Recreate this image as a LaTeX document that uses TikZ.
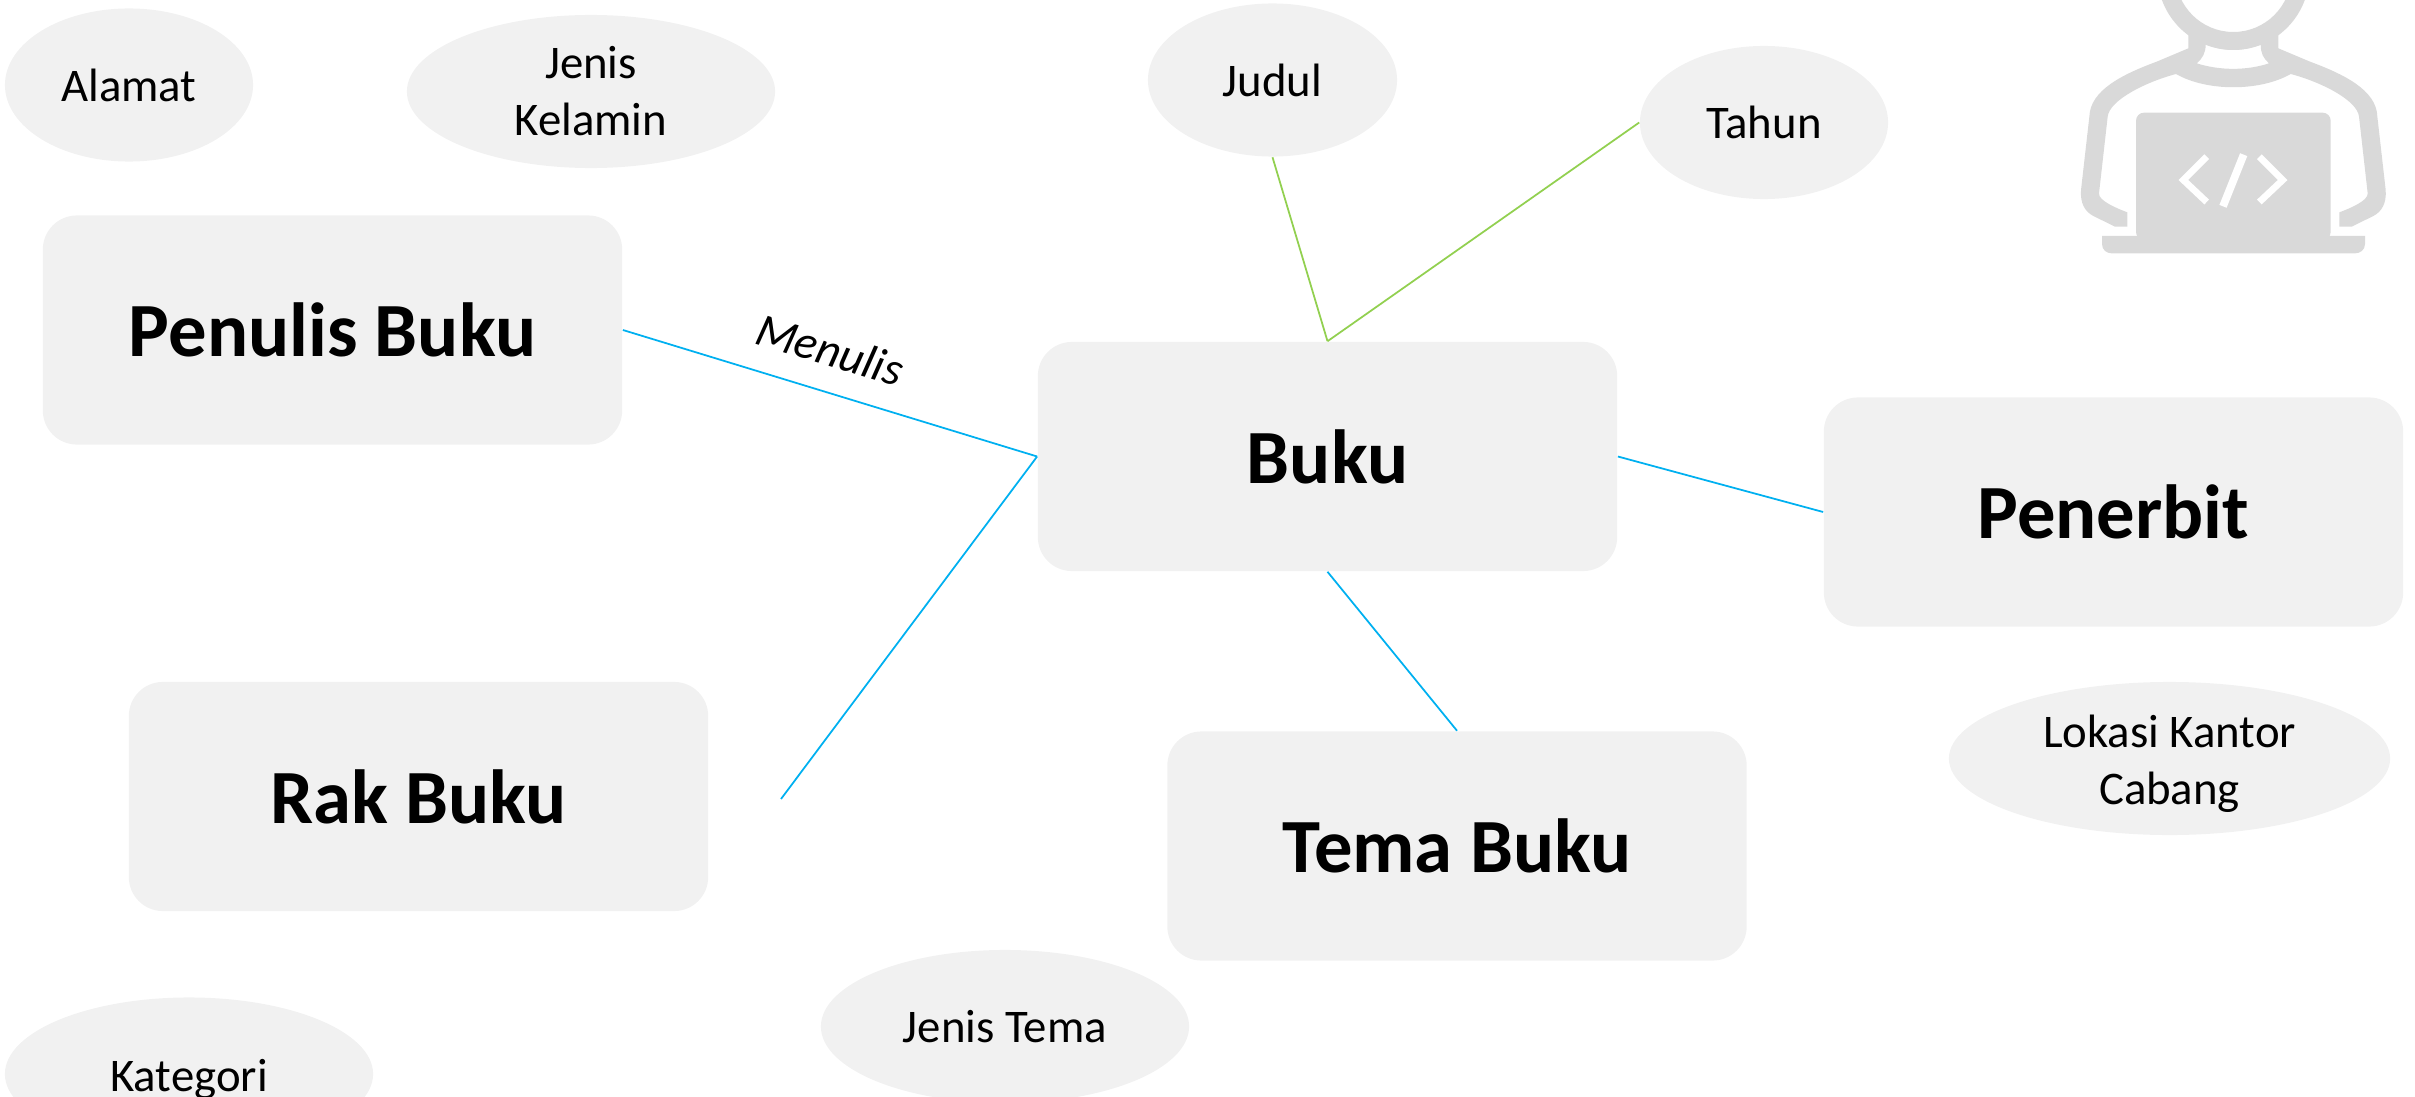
\documentclass[tikz,border=0pt]{standalone}
\usepackage{fontspec}
\setmainfont{Carlito}
\usetikzlibrary{shapes.geometric}
\definecolor{boxgray}{HTML}{F1F1F1}
\definecolor{icongray}{HTML}{D9D9D9}
\definecolor{linkblue}{HTML}{00B0F0}
\definecolor{linkgreen}{HTML}{92D050}
\newcommand{\lowtext}[1]{\raisebox{-1.5pt}[\height][\depth]{#1}}
\begin{document}
\begin{tikzpicture}[x=0.01cm, y=-0.01cm,
    box node/.style={rectangle, fill=boxgray, rounded corners=0.34cm, inner sep=0pt,
                        minimum width=5.79cm, minimum height=2.29cm,
                        font=\fontsize{21.8}{26}\selectfont\bfseries},
    attr node/.style={ellipse, fill=boxgray, inner sep=0pt, align=center,
                        minimum height=1.53cm,
                        font=\fontsize{13.3}{16.2}\selectfont},
    blue link/.style={linkblue, line width=0.5pt},
    green link/.style={linkgreen, line width=0.5pt}]
\useasboundingbox (0,0) rectangle (2415,1097);
\clip (0,0) rectangle (2415,1097);

\node[box node](penulis) at (332.5,330) {Penulis Buku};
\node[box node](buku) at (1327.5,456.5) {Buku};
\node[box node](penerbit) at (2113.5,512) {Penerbit};
\node[box node](rak) at (418.5,796.5) {Rak Buku};
\node[box node](tema) at (1457,846) {Tema Buku};

\node[attr node, minimum width=2.48cm](alamat) at (129,85) {Alamat};
\node[attr node, minimum width=3.68cm](kelamin) at (591,91.5) {Jenis\\Kelamin};
\node[attr node, minimum width=2.49cm](judul) at (1272.5,80) {Judul};
\node[attr node, minimum width=2.48cm](tahun) at (1764,122.5) {Tahun};
\node[attr node, minimum width=4.41cm](lokasi) at (2169.5,758.5) {\lowtext{Lokasi Kantor}\\\lowtext{Cabang}};
\node[attr node, minimum width=3.68cm](jenistema) at (1005,1026.5) {Jenis Tema};
\node[attr node, minimum width=3.68cm](kategori) at (189,1074) {\lowtext{Kategori}};

\coordinate (rakend) at (781,799);

\draw[blue link] (penulis.east) -- (buku.west)
    node[pos=0.471, sloped, above=3.6pt, black, font=\fontsize{13.4}{16}\selectfont\itshape] (menulis) {Menulis};
\draw[blue link] (rakend) -- (buku.west);
\draw[blue link] (buku.east) -- (penerbit.west);
\draw[blue link] (buku.south) -- (tema.north);
\draw[green link] (judul.south) -- (buku.north);
\draw[green link] (tahun.west) -- (buku.north);

\begin{scope}[shift={(2040,0)}, x=0.01cm/3, y=-0.01cm/3]
\fill[icongray, even odd rule] (580,-78) circle[radius=228] (580,-78) circle[radius=174];
\fill[icongray, even odd rule] (445,100) -- (445,145) -- (350,185)
    .. controls (250,222) and (150,270) .. (148,350)
    -- (123,570) .. controls (120,610) and (135,635) .. (160,648)
    -- (225,680) -- (262,680) -- (262,637)
    .. controls (230,625) and (175,602) .. (177,580)
    -- (203,350) .. controls (208,300) and (320,245) .. (408,222)
    .. controls (500,275) and (660,275) .. (752,222)
    .. controls (840,245) and (952,300) .. (957,350)
    -- (983,580) .. controls (985,602) and (930,625) .. (898,637)
    -- (898,680) -- (935,680) -- (1000,648)
    .. controls (1025,635) and (1040,610) .. (1037,570)
    -- (1012,350) .. controls (1010,270) and (910,222) .. (810,185)
    -- (715,145) -- (715,100) -- (580,125) -- cycle
    (497,133) .. controls (550,155) and (610,155) .. (662,133)
    .. controls (662,160) and (670,175) .. (687,190)
    .. controls (620,212) and (540,212) .. (470,190)
    .. controls (487,175) and (497,160) .. (497,133) -- cycle;
\fill[icongray, rounded corners=0.08cm] (288,720) -- (288,338) -- (872,338) -- (872,720) -- cycle;
\fill[icongray] (186,708) -- (975,708) -- (975,732) .. controls (975,750) and (960,760) .. (945,760)
    -- (215,760) .. controls (200,760) and (186,750) .. (186,732) -- cycle;
\draw[white, line width=1.9pt] (500,470) -- (430,540) -- (500,606);
\draw[white, line width=1.9pt] (658,470) -- (728,540) -- (658,606);
\draw[white, line width=2.2pt] (611,464) -- (549,619);
\end{scope}

\end{tikzpicture}
\end{document}
